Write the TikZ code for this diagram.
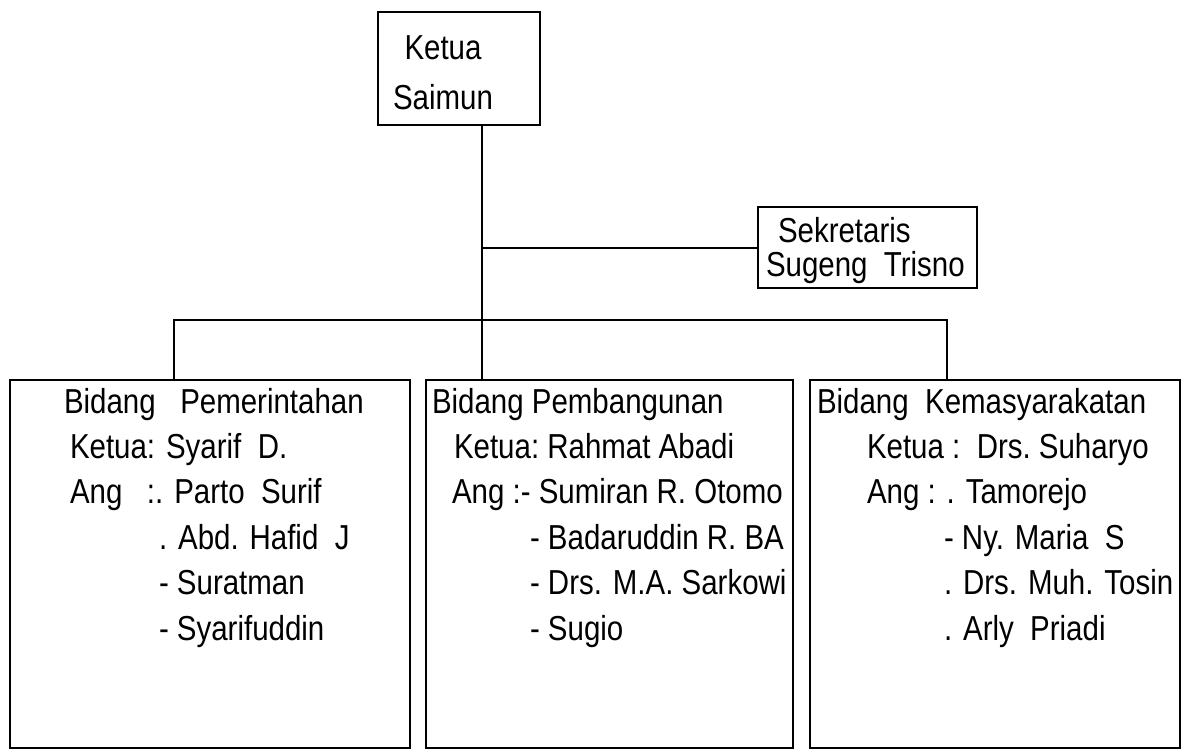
\documentclass[tikz,border=0pt]{standalone}
\usepackage{fontspec}
\setmainfont{Liberation Sans}[FakeStretch=0.85]
\usetikzlibrary{fit}

\tikzset{every picture/.style={line width=1.5pt}}
\tikzset{
  kotak/.style={draw, inner sep=0pt, outer sep=0pt, line width=1.5pt},
  tulis/.style={anchor=base west, inner sep=0.75pt, font=\fontsize{26}{30}\selectfont},
  tulisc/.style={tulis, anchor=base},
}

\begin{document}
\begin{tikzpicture}[x=0.75pt,y=0.75pt,yscale=-1,xscale=1]
\useasboundingbox (0,0) rectangle (1187,752);

%Shape: Rectangle [id:ketua]
\node (ketua) [kotak, fit={(378,12) (540,125)}] {};
%Shape: Rectangle [id:sekr]
\node (sekr) [kotak, fit={(758,207) (977,288)}] {};
%Shape: Rectangle [id:bidA]
\node (bidA) [kotak, fit={(10,380) (410,748)}] {};
%Shape: Rectangle [id:bidB]
\node (bidB) [kotak, fit={(426,380) (793,748)}] {};
%Shape: Rectangle [id:bidC]
\node (bidC) [kotak, fit={(810,380) (1180,748)}] {};

\coordinate (trunk) at (482,320);
\coordinate (busL) at (174,320);
\coordinate (busR) at (947,320);

%Straight Lines [id:trunk]
\draw (ketua.south -| trunk) -- (bidB.north -| trunk) ;
%Straight Lines [id:sekr]
\draw (sekr.west -| trunk) -- (sekr.west) ;
%Straight Lines [id:bus]
\draw (bidA.north -| busL) -- (busL) -- (busR) -- (bidC.north -| busR) ;

% Text Node
\node (k1) [tulisc] at (443,60) {Ketua};
% Text Node
\node (k2) [tulisc] at (443,110) {Saimun};
% Text Node
\node (s1) [tulis] at (776,243) {Sekretaris};
% Text Node
\node (s2) [tulis] at (764,276) {Sugeng\ \ Trisno};

% Text Node
\node (a1) [tulis] at (62,413) {Bidang\ \ \ Pemerintahan};
% Text Node
\node (a2) [tulis] at (68,458) {Ketua: Syarif\ \ D.};
% Text Node
\node (a3) [tulis] at (68,503) {Ang\ \ \ :. Parto\ \ Surif};
% Text Node
\node (a4) [tulis] at (157,549) {. Abd. Hafid\ \ J};
% Text Node
\node (a5) [tulis] at (157,594) {- Suratman};
% Text Node
\node (a6) [tulis] at (157,640) {- Syarifuddin};

% Text Node
\node (b1) [tulis] at (430,413) {Bidang Pembangunan};
% Text Node
\node (b2) [tulis] at (452,458) {Ketua:\ Rahmat Abadi};
% Text Node
\node (b3) [tulis] at (450,503) {Ang :- Sumiran R. Otomo};
% Text Node
\node (b4) [tulis] at (528,549) {- Badaruddin R. BA};
% Text Node
\node (b5) [tulis] at (528,594) {- Drs. M.A. Sarkowi};
% Text Node
\node (b6) [tulis] at (528,640) {- Sugio};

% Text Node
\node (c1) [tulis] at (815,413) {Bidang\ \ Kemasyarakatan};
% Text Node
\node (c2) [tulis] at (865,458) {Ketua\ :\ \ Drs.\ Suharyo};
% Text Node
\node (c3) [tulis] at (865,503) {Ang : . Tamorejo};
% Text Node
\node (c4) [tulis] at (942,549) {- Ny. Maria\ \ S};
% Text Node
\node (c5) [tulis] at (942,594) {. Drs. Muh. Tosin};
% Text Node
\node (c6) [tulis] at (942,640) {. Arly\ \ Priadi};

\end{tikzpicture}
\end{document}
